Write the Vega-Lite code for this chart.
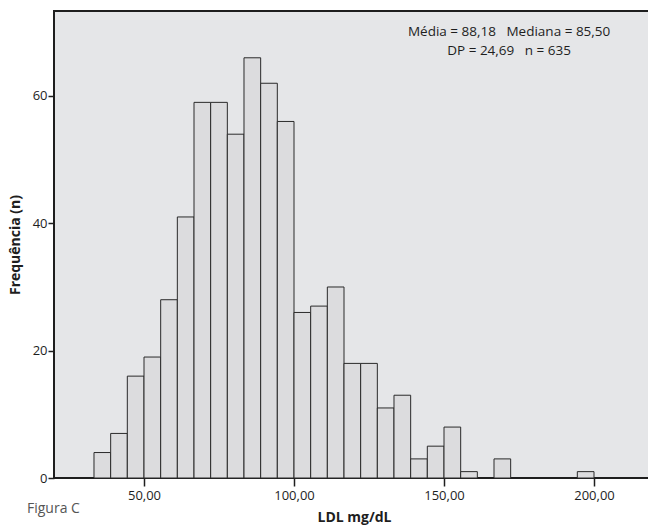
{
  "$schema": "https://vega.github.io/schema/vega-lite/v6.json",
  "autosize": {"type": "none"},
  "padding": {"left": 54, "top": 11, "right": 0, "bottom": 51},
  "width": 600,
  "height": 467,
  "background": "white",
  "config": {
    "font": "Open Sans",
    "view": {"fill": "#e5e6e8", "stroke": "#1e1e1e", "strokeWidth": 2}
  },
  "title": {
    "text": "Figura C",
    "orient": "bottom",
    "anchor": "start",
    "frame": "group",
    "dx": -27,
    "offset": -22,
    "fontSize": 14,
    "fontWeight": "normal",
    "color": "#555555",
    "font": "Open Sans"
  },
  "layer": [
    {
      "data": {
        "values": [
          {"bin_start": 33.33, "bin_end": 38.89, "count": 4},
          {"bin_start": 38.89, "bin_end": 44.44, "count": 7},
          {"bin_start": 44.44, "bin_end": 50.0, "count": 16},
          {"bin_start": 50.0, "bin_end": 55.56, "count": 19},
          {"bin_start": 55.56, "bin_end": 61.11, "count": 28},
          {"bin_start": 61.11, "bin_end": 66.67, "count": 41},
          {"bin_start": 66.67, "bin_end": 72.22, "count": 59},
          {"bin_start": 72.22, "bin_end": 77.78, "count": 59},
          {"bin_start": 77.78, "bin_end": 83.33, "count": 54},
          {"bin_start": 83.33, "bin_end": 88.89, "count": 66},
          {"bin_start": 88.89, "bin_end": 94.44, "count": 62},
          {"bin_start": 94.44, "bin_end": 100.0, "count": 56},
          {"bin_start": 100.0, "bin_end": 105.56, "count": 26},
          {"bin_start": 105.56, "bin_end": 111.11, "count": 27},
          {"bin_start": 111.11, "bin_end": 116.67, "count": 30},
          {"bin_start": 116.67, "bin_end": 122.22, "count": 18},
          {"bin_start": 122.22, "bin_end": 127.78, "count": 18},
          {"bin_start": 127.78, "bin_end": 133.33, "count": 11},
          {"bin_start": 133.33, "bin_end": 138.89, "count": 13},
          {"bin_start": 138.89, "bin_end": 144.44, "count": 3},
          {"bin_start": 144.44, "bin_end": 150.0, "count": 5},
          {"bin_start": 150.0, "bin_end": 155.56, "count": 8},
          {"bin_start": 155.56, "bin_end": 161.11, "count": 1},
          {"bin_start": 161.11, "bin_end": 166.67, "count": 0},
          {"bin_start": 166.67, "bin_end": 172.22, "count": 3},
          {"bin_start": 172.22, "bin_end": 177.78, "count": 0},
          {"bin_start": 177.78, "bin_end": 183.33, "count": 0},
          {"bin_start": 183.33, "bin_end": 188.89, "count": 0},
          {"bin_start": 188.89, "bin_end": 194.44, "count": 0},
          {"bin_start": 194.44, "bin_end": 200.0, "count": 1}
        ]
      },
      "transform": [{"filter": "datum.count > 0"}],
      "mark": {"type": "bar", "fill": "#dcdcde", "stroke": "#2a2a2a", "strokeWidth": 1, "opacity": 1},
      "encoding": {
        "x": {
          "field": "bin_start",
          "type": "quantitative",
          "scale": {"domain": [20, 220], "nice": false, "zero": false},
          "axis": {
            "values": [50, 100, 150, 200],
            "labelExpr": "replace(format(datum.value, '.2f'), '.', ',')",
            "title": "LDL mg/dL",
            "domain": false,
            "grid": false,
            "tickSize": 8,
            "tickColor": "#1e1e1e",
            "tickWidth": 1.5,
            "labelPadding": 3,
            "labelFontSize": 13,
            "labelColor": "#1e1e1e",
            "titleFontSize": 14,
            "titleFontWeight": "bold",
            "titleColor": "#1e1e1e",
            "titlePadding": 8
          }
        },
        "x2": {"field": "bin_end"},
        "y": {
          "field": "count",
          "type": "quantitative",
          "scale": {"domain": [0, 73.35], "nice": false},
          "axis": {
            "values": [0, 20, 40, 60],
            "title": "Frequência (n)",
            "domain": false,
            "grid": false,
            "tickSize": 6,
            "tickColor": "#1e1e1e",
            "tickWidth": 1.5,
            "labelPadding": 1,
            "labelFontSize": 13,
            "labelColor": "#1e1e1e",
            "titleFontSize": 14,
            "titleFontWeight": "bold",
            "titleColor": "#1e1e1e",
            "titlePadding": 10
          }
        },
        "y2": {"datum": 0}
      }
    },
    {
      "data": {
        "values": [
          {"label": "Média = 88,18\u00a0\u00a0\u00a0Mediana = 85,50", "x": 171.7, "y": 70.0},
          {"label": "DP = 24,69\u00a0\u00a0\u00a0n = 635", "x": 171.7, "y": 67.0}
        ]
      },
      "mark": {"type": "text", "fontSize": 13.5, "color": "#1e1e1e", "align": "center", "baseline": "middle"},
      "encoding": {
        "x": {"field": "x", "type": "quantitative"},
        "y": {"field": "y", "type": "quantitative"},
        "text": {"field": "label"}
      }
    }
  ]
}
